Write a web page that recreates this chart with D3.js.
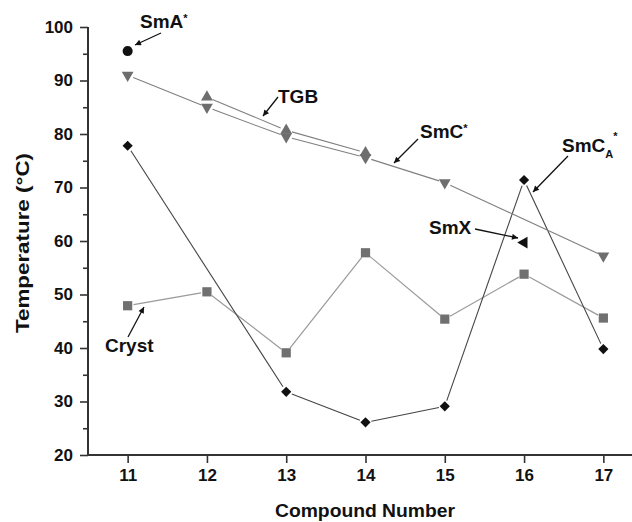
<!DOCTYPE html>
<html>
<head>
<meta charset="utf-8">
<script src="https://cdn.jsdelivr.net/npm/d3@7"></script>
<style>
  html, body { margin: 0; padding: 0; background: #fff; }
  svg { display: block; font-family: "Liberation Sans", Arial, sans-serif; font-weight: bold; }
</style>
</head>
<body>
<svg id="chart" width="632" height="522"></svg>
<script>
// ---- data ----
const xTicks = [11, 12, 13, 14, 15, 16, 17];
const yTicks = [20, 30, 40, 50, 60, 70, 80, 90, 100];

const smAX = [11];
const smAY = [95.5];

const smCX = [11, 12, 13, 14, 15, 17];
const smCY = [91, 85, 79.5, 75.6, 70.9, 57.2];

const tgbX = [12, 13, 14];
const tgbY = [86.9, 80.7, 76.5];

const smCAX = [11, 13, 14, 15, 16, 17];
const smCAY = [77.8, 31.8, 26.1, 29.1, 71.4, 39.8];

const crystX = [11, 12, 13, 14, 15, 16, 17];
const crystY = [47.9, 50.5, 39.1, 57.8, 45.4, 53.8, 45.6];

const smXX = [16];
const smXY = [59.7];

// ---- chart ----
const svg = d3.select("#chart");
const x = d3.scaleLinear().domain([10.5, 17.5]).range([88, 643]);
const y = d3.scaleLinear().domain([20, 100]).range([455, 27]);

// axes
const gx = svg.append("g").attr("transform", "translate(0,455)")
  .call(d3.axisBottom(x).tickValues(xTicks).tickFormat(d3.format("d")).tickSize(8).tickPadding(6));
const gy = svg.append("g").attr("transform", "translate(88,0)")
  .call(d3.axisLeft(y).tickValues(yTicks).tickSize(8).tickPadding(7));
const gyMinor = svg.append("g").attr("transform", "translate(88,0)")
  .call(d3.axisLeft(y).tickValues(d3.range(25, 100, 10)).tickSize(5).tickFormat(""));
gyMinor.select(".domain").remove();
[gx, gy, gyMinor].forEach(g => {
  g.select(".domain").attr("stroke", "#333").attr("stroke-width", 2);
  g.selectAll(".tick line").attr("stroke", "#333").attr("stroke-width", 1.6);
  g.selectAll(".tick text").attr("fill", "#111").style("font-size", "17px")
    .style("font-family", "'Liberation Sans', Arial, sans-serif").style("font-weight", "bold");
});
gx.select(".domain").attr("d", "M88,0H643");
gy.select(".domain").attr("d", "M0,455V27");

// axis titles
svg.append("text").attr("x", 365).attr("y", 517).attr("text-anchor", "middle")
  .attr("textLength", 180).attr("lengthAdjust", "spacingAndGlyphs")
  .style("font-size", "18.5px").attr("fill", "#111").text("Compound Number");
svg.append("text").attr("transform", "translate(29,243) rotate(-90)").attr("text-anchor", "middle")
  .attr("textLength", 180).attr("lengthAdjust", "spacingAndGlyphs")
  .style("font-size", "18.5px").attr("fill", "#111").text("Temperature (°C)");

// series lines with gaps at markers
function gapLine(xs, ys, color, gap, width) {
  const pts = xs.map((d, i) => [x(d), y(ys[i])]);
  for (let i = 0; i < pts.length - 1; i++) {
    const [x1, y1] = pts[i], [x2, y2] = pts[i + 1];
    const len = Math.hypot(x2 - x1, y2 - y1);
    const ux = (x2 - x1) / len, uy = (y2 - y1) / len;
    svg.append("line")
      .attr("x1", x1 + ux * gap).attr("y1", y1 + uy * gap)
      .attr("x2", x2 - ux * gap).attr("y2", y2 - uy * gap)
      .attr("stroke", color).attr("stroke-width", width);
  }
}
gapLine(crystX, crystY, "#9a9a9a", 6, 1.2);
gapLine(smCAX, smCAY, "#444", 6, 1.1);
gapLine(smCX, smCY, "#808080", 6, 1.1);
gapLine(tgbX, tgbY, "#808080", 6, 1.1);

function markers(xs, ys, type, size, rot, color) {
  svg.append("g").selectAll("path").data(xs).join("path")
    .attr("d", d3.symbol().type(type).size(size))
    .attr("transform", (d, i) => `translate(${x(d)},${y(ys[i])}) rotate(${rot})`)
    .attr("fill", color);
}
markers(crystX, crystY, d3.symbolSquare, 85, 0, "#707070");
markers(smCAX, smCAY, d3.symbolSquare, 52, 45, "#111");
markers(smCX, smCY, d3.symbolTriangle, 60, 180, "#6e6e6e");
markers(tgbX, tgbY, d3.symbolTriangle, 60, 0, "#6e6e6e");
markers(smAX, smAY, d3.symbolCircle, 80, 0, "#111");
markers(smXX, smXY, d3.symbolTriangle, 60, -90, "#111");

// annotations
svg.append("defs").append("marker").attr("id", "ah")
  .attr("viewBox", "0 0 10 10").attr("refX", 10).attr("refY", 5)
  .attr("markerWidth", 9).attr("markerHeight", 6).attr("markerUnits", "userSpaceOnUse")
  .attr("orient", "auto")
  .append("path").attr("d", "M0,0L10,5L0,10Z").attr("fill", "#111");

function arrow(x1, y1, x2, y2) {
  svg.append("line").attr("x1", x1).attr("y1", y1).attr("x2", x2).attr("y2", y2)
    .attr("stroke", "#111").attr("stroke-width", 1.3).attr("marker-end", "url(#ah)");
}
function label(xp, yp, parts) {
  const t = svg.append("text").attr("x", xp).attr("y", yp).attr("fill", "#111").style("font-size", "19px");
  parts.forEach(p => {
    const s = t.append("tspan").text(p.t);
    if (p.sup) s.style("font-size", "11px").attr("dy", p.dy);
    if (p.dy && !p.sup) s.attr("dy", p.dy);
    if (p.size) s.style("font-size", p.size);
    if (p.dx) s.attr("dx", p.dx);
  });
}
label(140, 28, [{t: "SmA"}, {t: "*", sup: true, dy: -6}]);
arrow(161, 33, 135, 45);
label(278, 103, [{t: "TGB"}]);
arrow(278, 97, 263, 116);
label(420, 138, [{t: "SmC"}, {t: "*", sup: true, dy: -6}]);
arrow(418, 139, 394, 163);
label(562, 152, [{t: "SmC"}, {t: "A", size: "11px", dy: 6}, {t: "*", size: "11px", dy: -18, dx: 0}]);
arrow(568, 156, 533, 192);
label(429, 234, [{t: "SmX"}]);
arrow(475, 229, 518, 238);
label(105, 352, [{t: "Cryst"}]);
arrow(128, 337, 144, 307);
</script>
</body>
</html>
